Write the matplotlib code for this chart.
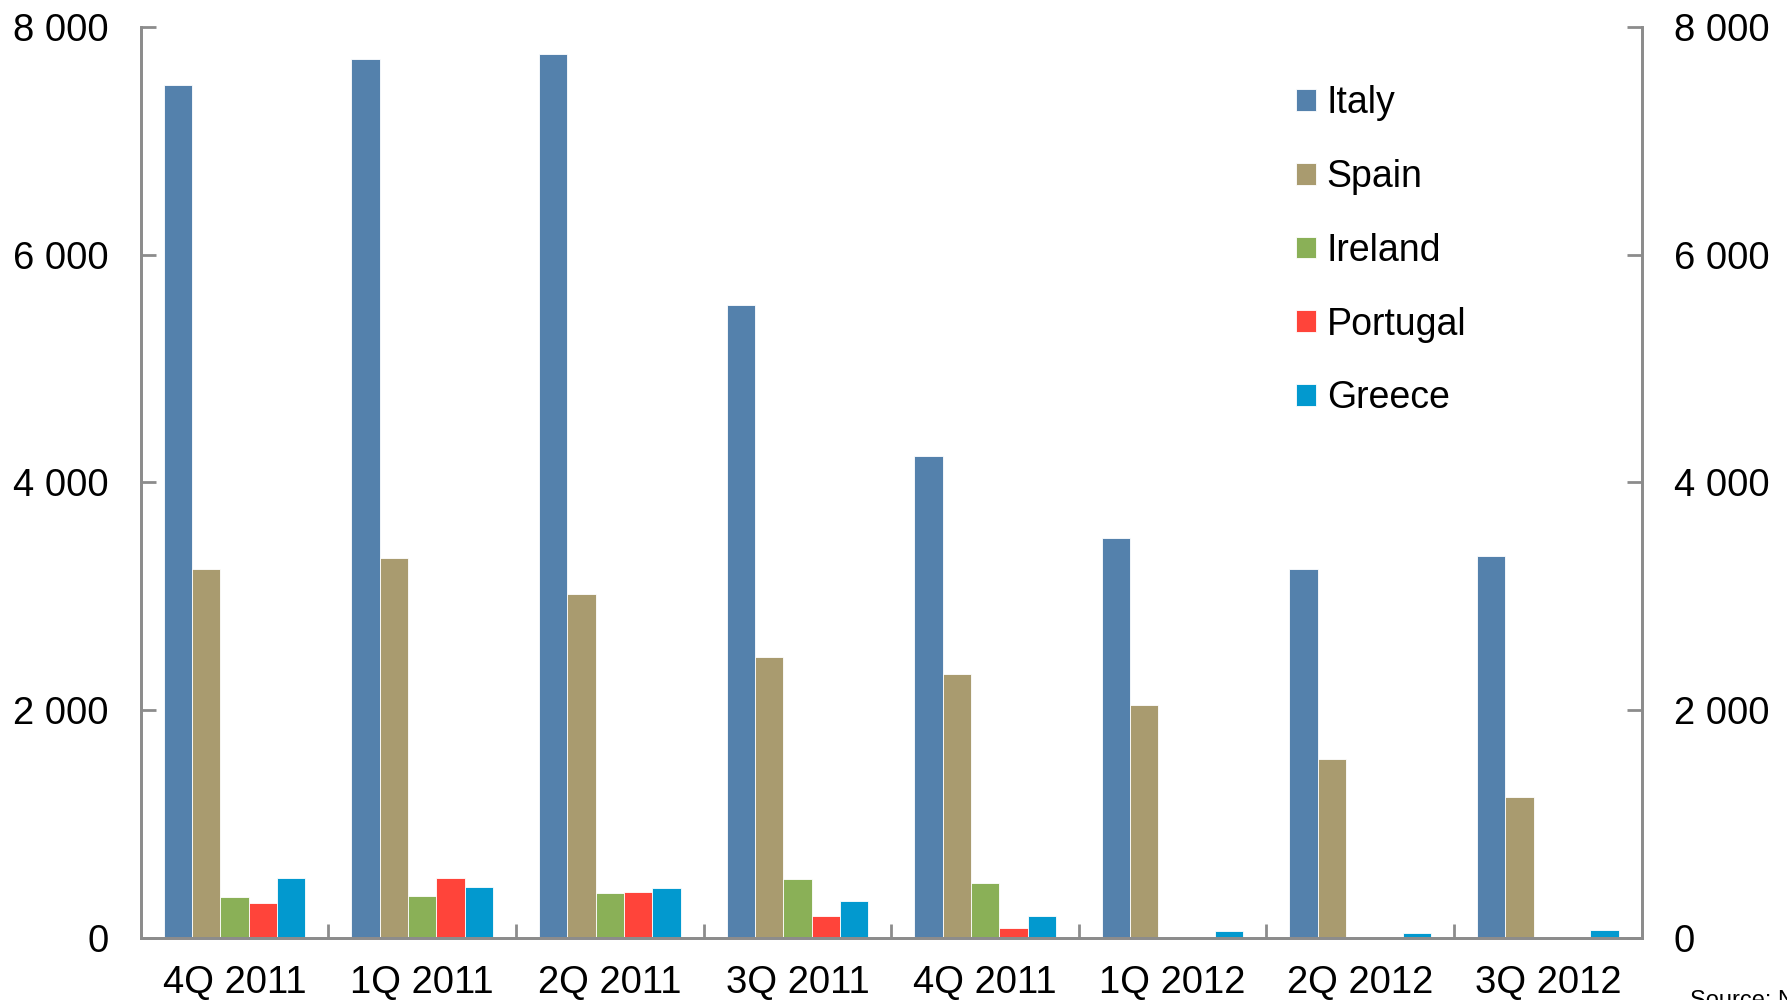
import matplotlib
matplotlib.use("Agg")
import matplotlib.pyplot as plt
import numpy as np
from matplotlib.ticker import FuncFormatter, FixedLocator

plt.rcParams['font.family'] = ['Liberation Sans', 'DejaVu Sans']

quarters = ["4Q 2011", "1Q 2011", "2Q 2011", "3Q 2011", "4Q 2011", "1Q 2012", "2Q 2012", "3Q 2012"]
italy    = [7490, 7725, 7765, 5555, 4235, 3515, 3240, 3350]
spain    = [3240, 3335, 3015, 2465, 2315, 2045, 1565, 1235]
ireland  = [360, 363, 387, 516, 481, 0, 0, 0]
portugal = [300, 519, 396, 191, 85, 0, 0, 0]
greece   = [525, 440, 437, 317, 185, 56, 41, 64]

series_names = ["Italy", "Spain", "Ireland", "Portugal", "Greece"]
series_vals = [italy, spain, ireland, portugal, greece]
colors = ["#5481AC", "#A99B6F", "#8AB057", "#FF443A", "#0299CF"]

W, H = 1787, 1000
fig = plt.figure(figsize=(W / 100, H / 100), dpi=100)
ax = fig.add_axes([140.7 / W, 1 - 937.5 / H, (1641.7 - 140.7) / W, (937.5 - 27.3) / H])

n = len(quarters)
x = np.arange(n)
bw = 0.151
for i, (name, vals, c) in enumerate(zip(series_names, series_vals, colors)):
    ax.bar(x + (i - 2) * bw, vals, width=bw, color=c, label=name,
           edgecolor='white', linewidth=0.6, zorder=2)

ax.set_xlim(-0.5, n - 0.5)
ax.set_ylim(0, 8000)

spine_col = "#8C8C8C"
for s in ['left', 'right', 'bottom']:
    ax.spines[s].set_color(spine_col)
    ax.spines[s].set_linewidth(2)
ax.spines['top'].set_visible(False)

fmt = FuncFormatter(lambda v, p: f"{int(v):,}".replace(",", " "))
ax.yaxis.set_major_locator(FixedLocator([0, 2000, 4000, 6000, 8000]))
ax.yaxis.set_major_formatter(fmt)
ax.tick_params(axis='y', which='major', direction='in', length=11, width=2,
               color=spine_col, labelsize=27.5, pad=23, left=True, right=False)

ax.set_xticks(x)
ax.set_xticklabels(quarters)
ax.set_xticks(np.arange(0.5, n - 1, 1.0), minor=True)
ax.tick_params(axis='x', which='major', length=0, labelsize=27.5, pad=20)
ax.tick_params(axis='x', which='minor', direction='in', length=10, width=2, color=spine_col)

ax2 = ax.twinx()
ax2.set_ylim(0, 8000)
ax2.yaxis.set_major_locator(FixedLocator([0, 2000, 4000, 6000, 8000]))
ax2.yaxis.set_major_formatter(fmt)
ax2.tick_params(axis='y', direction='in', length=11, width=2, color=spine_col,
                labelsize=27.5, pad=23)
for s in ['left', 'right', 'bottom']:
    ax2.spines[s].set_color(spine_col)
    ax2.spines[s].set_linewidth(2)
ax2.spines['top'].set_visible(False)

leg = ax.legend(loc='upper left', bbox_to_anchor=(1296 / W, 1 - 85 / H),
                bbox_transform=fig.transFigure, frameon=False, fontsize=27,
                handlelength=0.52, handleheight=0.52, handletextpad=0.3,
                labelspacing=1.01, borderpad=0, borderaxespad=0)

fig.text(1690 / W, 1 - 990 / H, "Source: Norges Bank", fontsize=17,
         ha='left', va='top')

fig.savefig("out.png", dpi=100)
